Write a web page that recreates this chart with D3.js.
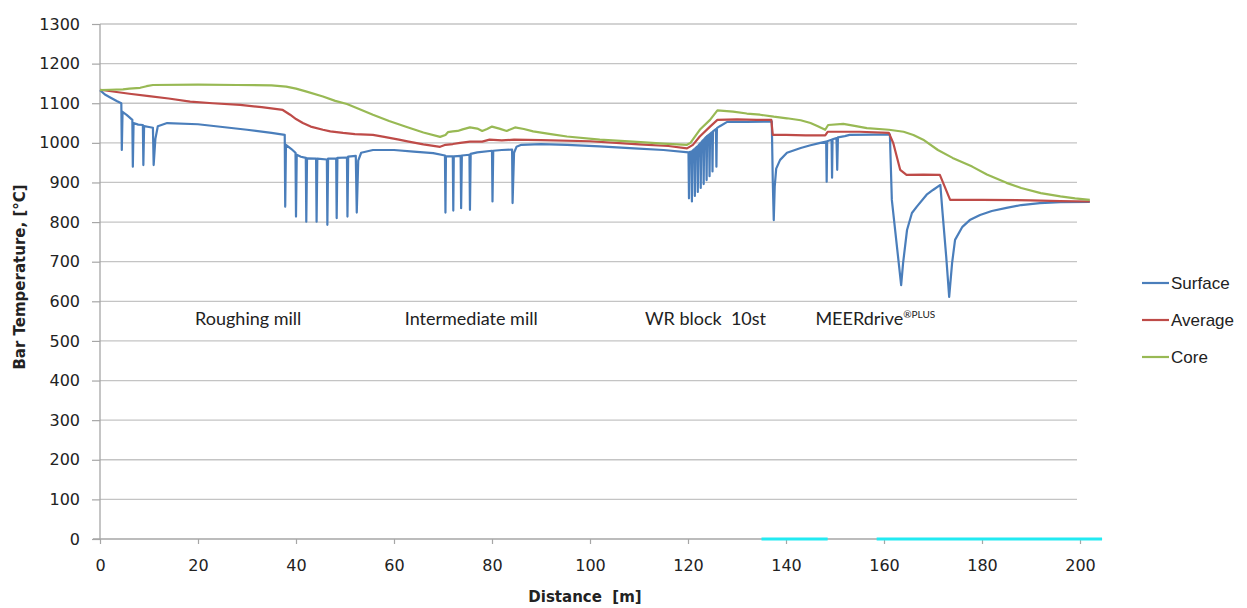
<!DOCTYPE html>
<html>
<head>
<meta charset="utf-8">
<script src="https://cdn.jsdelivr.net/npm/d3@7"></script>
<style>
  body { margin: 0; background: #fff; }
  text { fill: #222; }
</style>
</head>
<body>
<div id="chart"></div>
<script>
// Distance [m] vs bar temperature [°C]
const surface = [
  [0,1133],[1,1122],[2,1115],[3.5,1105],[4.35,1100],[4.45,982],[4.6,1078],[5.5,1070],
  [6.6,1058],[6.7,940],[6.85,1050],[7.8,1046],[8.75,1045],[8.85,944],[9,1042],[10,1040],
  [10.8,1038],[10.95,944],[11.3,1010],[11.8,1042],[13.7,1050],[20,1047],[25,1040],[30,1033],
  [35,1025],[37.7,1020],[37.8,839],[37.95,995],[39,985],[39.9,975],[40,814],[40.15,970],
  [41,965],[42,962],[42.1,801],[42.25,961],[44.1,960],[44.2,801],[44.35,960],[46.3,958],
  [46.4,793],[46.55,960],[48.2,960],[48.3,810],[48.45,962],[50.4,963],[50.5,814],[50.65,965],
  [52.2,967],[52.4,824],[52.7,955],[53.3,975],[55.7,982],[60,982],[64,978],[68,974],
  [70.4,968],[70.5,824],[70.6,966],[72,966],[72.1,829],[72.2,966],[73.6,967],[73.7,835],
  [73.85,968],[75.4,970],[75.5,831],[75.65,972],[77,976],[80,980],[80.1,852],[80.25,980],
  [82,982],[84.1,983],[84.2,848],[84.5,975],[85,990],[86,995],[90,997],[95.3,995],
  [102,991],[109,986],[115,982],[120.1,976],[120.2,860],[120.3,977],[120.7,978],[120.8,852],
  [120.9,980],[121.3,984],[121.4,866],[121.5,986],[121.9,991],[122.0,876],[122.1,993],
  [122.5,999],[122.6,886],[122.7,1001],[123.1,1007],[123.2,896],[123.3,1009],[123.7,1015],
  [123.8,906],[123.9,1017],[124.3,1021],[124.4,916],[124.5,1023],[124.9,1027],[125.0,928],
  [125.1,1029],[125.7,1035],[125.8,940],[125.9,1037],[126.5,1042],[128,1053],[132,1053],
  [137.1,1054],[137.3,905],[137.5,805],[137.7,890],[138,935],[138.8,957],[140.2,975],
  [143,987],[145,994],[147,1000],[148.2,1003],[148.3,902],[148.4,1004],[149.3,1008],
  [149.4,912],[149.5,1009],[150.3,1012],[150.45,932],[150.6,1014],[152,1017],[153,1020],
  [158,1021],[161.2,1021],[161.6,856],[163.5,641],[163.9,697],[164.7,780],[165.7,823],
  [166.7,839],[168.7,869],[170,881],[171.5,894],[171.9,831],[172.7,712],[173.3,611],
  [173.9,697],[174.5,755],[176,788],[177.5,805],[179.6,818],[182,828],[185,836],[188,843],
  [191.8,848],[196,850],[202,851]
];

const average = [
  [0,1134],[3,1129],[6,1124],[10,1118],[14,1112],[18.4,1104],[23,1100],[28.6,1096],
  [33,1090],[37.3,1083],[38.8,1071],[40,1060],[41.4,1050],[43,1041],[45.5,1033],[47,1029],
  [49.6,1025],[52,1022],[55.7,1020],[58,1015],[61,1008],[63,1003],[66,996],[69.4,990],
  [70.5,995],[72,997],[73.5,1000],[75.5,1003],[78,1003],[79.5,1008],[82,1006],[84.5,1008],
  [90,1007],[100,1004],[110,996],[116,992],[119.8,986],[121,995],[122.4,1016],[124.5,1041],
  [126,1058],[130,1059],[134,1058],[137,1058],[137.3,1020],[140,1020],[144,1019],[148,1019],
  [148.5,1028],[155,1028],[161,1025],[161.9,999],[163.3,932],[164.6,919],[168,920],
  [171.4,919],[173.5,856],[180,856],[190,855],[196,853],[202,852]
];

const core = [
  [0,1133],[2,1134],[4.7,1135],[6,1137],[8.2,1139],[9.5,1143],[10.8,1146],[20,1147],
  [28,1146],[35,1145],[38,1142],[40,1137],[42,1130],[45.5,1117],[48,1106],[50.4,1098],
  [53,1085],[55.7,1071],[59,1055],[62.6,1040],[66,1026],[69.4,1015],[70.5,1020],[71,1027],
  [72,1029],[73,1030],[74,1034],[75.5,1039],[77,1036],[78,1030],[79,1035],[80,1041],
  [81.5,1036],[83,1030],[84.7,1039],[86.5,1035],[88.4,1029],[92,1022],[95.3,1016],[102,1008],
  [108.8,1003],[115,998],[119.8,995],[120.5,1000],[122.4,1033],[124.5,1058],[126,1082],
  [129.2,1079],[132,1074],[134.7,1071],[137.5,1066],[140.2,1062],[143,1057],[145,1050],
  [146.5,1042],[148,1033],[148.6,1045],[151.7,1048],[154,1043],[156.5,1037],[161,1033],
  [164,1028],[166,1020],[168,1008],[171,982],[174,962],[178,940],[181,920],[185,899],
  [188,886],[192,873],[196,865],[199,860],[202,856]
];

const seriesNames = ["Surface", "Average", "Core"];
const xTicks = [0, 20, 40, 60, 80, 100, 120, 140, 160, 180, 200];
const yTicks = [0, 100, 200, 300, 400, 500, 600, 700, 800, 900, 1000, 1100, 1200, 1300];
const stages = [
  {label: "Roughing mill", at: 19.4},
  {label: "Intermediate mill", at: 62.2},
  {label: "WR block  10st", at: 111.2},
  {label: "MEERdrive", sup: "®PLUS", at: 146}
];
// cyan marks sitting on the x axis in the original
const axisHighlights = [[135, 148.5], [158.5, 204.5]];

const colors = {Surface: "#4a7ebb", Average: "#be4b48", Core: "#98b954"};
const width = 1247, height = 608;
const margin = {top: 24, left: 100, bottom: 69};

const svg = d3.select("#chart")
  .append("svg")
  .attr("width", width)
  .attr("height", height);

const x = d3.scaleLinear().domain([0, 200]).range([margin.left, 1080]);
const y = d3.scaleLinear().domain([0, 1300]).range([height - margin.bottom, margin.top]);

// gridlines
svg.append("g")
  .selectAll("line")
  .data(yTicks.filter(d => d > 0))
  .enter().append("line")
  .attr("x1", x(0))
  .attr("x2", 1077)
  .attr("y1", d => y(d))
  .attr("y2", d => y(d))
  .attr("stroke", "#c4c4c4")
  .attr("stroke-width", 1.3);

// y axis
const yAxis = svg.append("g")
  .attr("transform", `translate(${x(0)},0)`)
  .call(d3.axisLeft(y).tickValues(yTicks).tickFormat(d3.format("d")).tickSize(8).tickPadding(12));
yAxis.select(".domain").remove();
yAxis.selectAll(".tick line").attr("stroke", "#a6a6a6").attr("stroke-width", 1.2);
yAxis.selectAll("text").style("font-family", "DejaVu Sans").style("font-size", "16px").attr("fill", "#222");
svg.append("line")
  .attr("x1", x(0)).attr("x2", x(0))
  .attr("y1", y(0)).attr("y2", y(1300))
  .attr("stroke", "#a6a6a6").attr("stroke-width", 1.3);

// x axis
const xAxis = svg.append("g")
  .attr("transform", `translate(0,${y(0)})`)
  .call(d3.axisBottom(x).tickValues(xTicks).tickFormat(d3.format("d")).tickSize(5).tickPadding(16));
xAxis.select(".domain").remove();
xAxis.selectAll(".tick line").attr("stroke", "#a6a6a6").attr("stroke-width", 1.2);
xAxis.selectAll("text").style("font-family", "DejaVu Sans").style("font-size", "16px").attr("fill", "#222");
svg.append("line")
  .attr("x1", x(0) - 7).attr("x2", x(204.5))
  .attr("y1", y(0)).attr("y2", y(0))
  .attr("stroke", "#a6a6a6").attr("stroke-width", 1.5);

svg.append("g")
  .selectAll("line")
  .data(axisHighlights)
  .enter().append("line")
  .attr("x1", d => x(d[0]))
  .attr("x2", d => x(d[1]))
  .attr("y1", y(0))
  .attr("y2", y(0))
  .attr("stroke", "#22eaf2")
  .attr("stroke-width", 3);

// axis titles
svg.append("text")
  .attr("x", 585)
  .attr("y", 602)
  .attr("text-anchor", "middle")
  .style("font-family", "DejaVu Sans")
  .style("font-weight", "bold")
  .style("font-size", "15px")
  .style("white-space", "pre")
  .text("Distance  [m]");

svg.append("text")
  .attr("transform", "translate(25,277) rotate(-90)")
  .attr("text-anchor", "middle")
  .style("font-family", "DejaVu Sans")
  .style("font-weight", "bold")
  .style("font-size", "15px")
  .text("Bar Temperature, [°C]");

// stage labels
const stageText = svg.append("g")
  .selectAll("text")
  .data(stages)
  .enter().append("text")
  .attr("x", d => x(d.at))
  .attr("y", y(540))
  .style("font-family", "Lato")
  .style("font-size", "18px")
  .style("white-space", "pre");
stageText.append("tspan").text(d => d.label);
stageText.filter(d => d.sup)
  .append("tspan")
  .attr("dy", -7)
  .style("font-size", "10px")
  .text(d => d.sup);

// series lines
const line = d3.line()
  .x(d => x(d[0]))
  .y(d => y(d[1]));

const seriesData = {Surface: surface, Average: average, Core: core};
seriesNames.forEach(name => {
  svg.append("path")
    .datum(seriesData[name])
    .attr("fill", "none")
    .attr("stroke", colors[name])
    .attr("stroke-width", 2.2)
    .attr("stroke-linejoin", "round")
    .attr("d", line);
});

// legend
const legend = svg.append("g")
  .selectAll("g")
  .data(seriesNames)
  .enter().append("g")
  .attr("transform", (d, i) => `translate(1142,${283 + i * 37})`);
legend.append("line")
  .attr("x1", 0).attr("x2", 27)
  .attr("stroke", d => colors[d])
  .attr("stroke-width", 2.2);
legend.append("text")
  .attr("x", 29)
  .attr("dy", "0.35em")
  .style("font-family", "Liberation Sans")
  .style("font-size", "17px")
  .text(d => d);
</script>
</body>
</html>
